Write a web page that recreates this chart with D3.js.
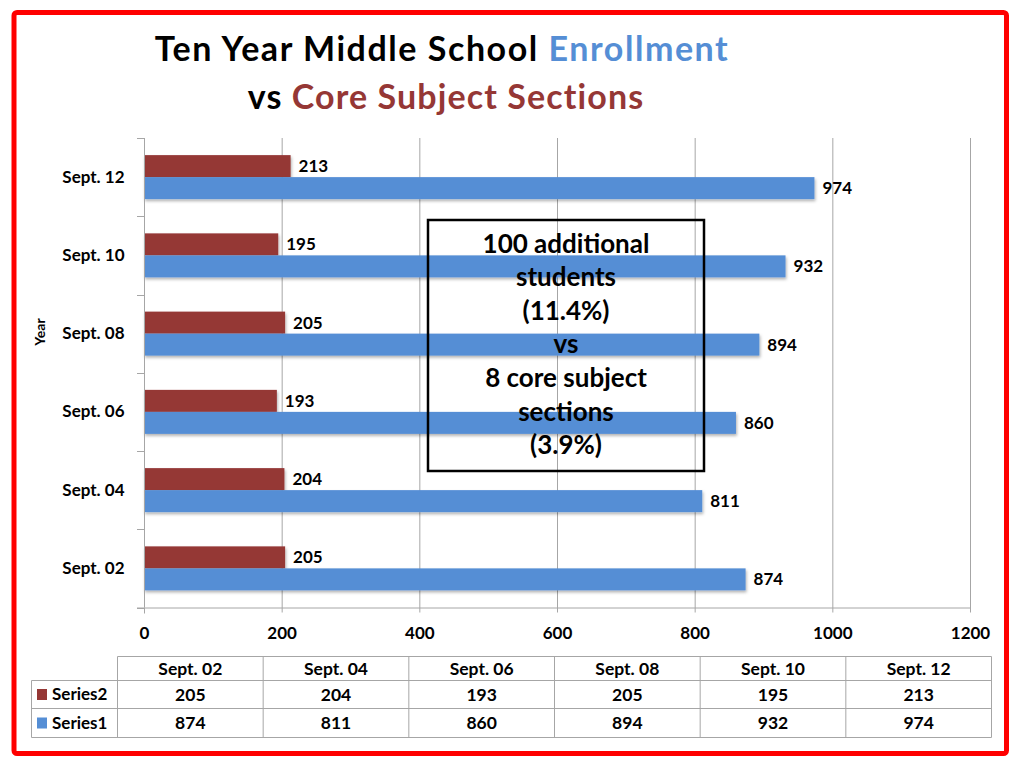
<!DOCTYPE html>
<html>
<head>
<meta charset="utf-8">
<script src="https://cdn.jsdelivr.net/npm/d3@7"></script>
<style>
  html, body { margin: 0; padding: 0; background: #fff; }
  svg { display: block; font-family: Lato, "Open Sans", sans-serif; font-weight: bold; }
</style>
</head>
<body>
<svg id="chart" width="1024" height="768"></svg>
<script>
// ---- data ----
const categories = ["Sept. 02", "Sept. 04", "Sept. 06", "Sept. 08", "Sept. 10", "Sept. 12"];
const series2 = [205, 204, 193, 205, 195, 213];   // core subject sections (red)
const series1 = [874, 811, 860, 894, 932, 974];   // enrollment (blue)
const seriesNames = ["Series2", "Series1"];
const xTicks = [0, 200, 400, 600, 800, 1000, 1200];
const boxLines = ["100 additional", "students", "(11.4%)", "vs", "8 core subject", "sections", "(3.9%)"];

const blue = "#558ED5", red = "#953735", grid = "#A6A6A6";
const fs = 17;

const svg = d3.select("#chart");

// drop shadow
const defs = svg.append("defs");
const f = defs.append("filter").attr("id", "sh").attr("x", "-5%").attr("y", "-30%").attr("width", "110%").attr("height", "180%");
f.append("feDropShadow").attr("dx", 1).attr("dy", 2).attr("stdDeviation", 1.5).attr("flood-color", "#000").attr("flood-opacity", 0.3);

// red frame
svg.append("rect").attr("x", 14).attr("y", 12.5).attr("width", 992.5).attr("height", 741)
  .attr("rx", 3).attr("fill", "none").attr("stroke", "#FF0000").attr("stroke-width", 5);

// title
const t1 = svg.append("text").attr("x", 442).attr("y", 61).attr("text-anchor", "middle").attr("font-size", 34).attr("letter-spacing", 1.55);
t1.append("tspan").attr("fill", "#000").text("Ten Year Middle School ");
t1.append("tspan").attr("fill", blue).text("Enrollment");
const t2 = svg.append("text").attr("x", 446).attr("y", 109).attr("text-anchor", "middle").attr("font-size", 34).attr("letter-spacing", 1.1);
t2.append("tspan").attr("fill", "#000").text("vs ");
t2.append("tspan").attr("fill", red).text("Core Subject Sections");

// scales
const pLeft = 144, pRight = 970, pTop = 138, pBottom = 607.5;
const x = d3.scaleLinear().domain([0, 1200]).range([pLeft, pRight]);
const y = d3.scaleBand().domain(categories.slice().reverse()).range([pTop, pBottom]).paddingInner(0).paddingOuter(0);
const barH = 22;
const inner = d3.scaleBand().domain(seriesNames)
  .range([y.bandwidth() / 2 - barH, y.bandwidth() / 2 + barH]).padding(0);

// gridlines
svg.append("g").selectAll("line").data(xTicks.slice(1)).join("line")
  .attr("x1", d => x(d) + 0.5).attr("x2", d => x(d) + 0.5)
  .attr("y1", pTop).attr("y2", pBottom + 5)
  .attr("stroke", grid).attr("stroke-width", 1);

// bars
const rows = categories.map((c, i) => ({ c, s2: series2[i], s1: series1[i] }));
const gBars = svg.append("g");
rows.forEach(r => {
  const g = gBars.append("g").attr("transform", `translate(0,${y(r.c)})`);
  g.append("rect").attr("x", x(0)).attr("y", inner("Series2")).attr("width", x(r.s2) - x(0)).attr("height", inner.bandwidth())
    .attr("fill", red).attr("filter", "url(#sh)");
  g.append("rect").attr("x", x(0)).attr("y", inner("Series1")).attr("width", x(r.s1) - x(0)).attr("height", inner.bandwidth())
    .attr("fill", blue).attr("filter", "url(#sh)");
  g.append("text").attr("x", x(r.s2) + 8).attr("y", inner("Series2") + inner.bandwidth() / 2).attr("dy", "0.35em")
    .attr("font-size", fs).attr("fill", "#000").text(r.s2);
  g.append("text").attr("x", x(r.s1) + 8).attr("y", inner("Series1") + inner.bandwidth() / 2).attr("dy", "0.35em")
    .attr("font-size", fs).attr("fill", "#000").text(r.s1);
});

// y axis
const yAxis = svg.append("g").attr("transform", `translate(${pLeft + 0.5},0)`)
  .call(d3.axisLeft(y).tickSize(0).tickPadding(20));
yAxis.select(".domain").remove();
yAxis.selectAll("text").attr("font-size", fs).attr("font-family", "Lato").attr("font-weight", "bold").attr("fill", "#000");
svg.append("line").attr("x1", pLeft + 0.5).attr("x2", pLeft + 0.5).attr("y1", pTop).attr("y2", pBottom).attr("stroke", grid);
const bounds = categories.map(c => y(c)).concat([pBottom]);
svg.append("g").selectAll("line").data(bounds).join("line")
  .attr("x1", pLeft - 7).attr("x2", pLeft).attr("y1", d => Math.round(d) + 0.5).attr("y2", d => Math.round(d) + 0.5)
  .attr("stroke", grid);

// x axis
const xAxis = svg.append("g").attr("transform", `translate(0,${pBottom})`)
  .call(d3.axisBottom(x).tickValues(xTicks).tickSize(0).tickPadding(19).tickFormat(d3.format("d")));
xAxis.select(".domain").remove();
xAxis.selectAll("text").attr("font-size", fs).attr("font-family", "Lato").attr("font-weight", "bold").attr("fill", "#000");
svg.append("line").attr("x1", pLeft - 7).attr("x2", pRight).attr("y1", pBottom + 0.5).attr("y2", pBottom + 0.5).attr("stroke", grid);
svg.append("line").attr("x1", pLeft + 0.5).attr("x2", pLeft + 0.5).attr("y1", pBottom).attr("y2", pBottom + 6).attr("stroke", grid);

// y title
svg.append("text").attr("transform", "translate(45,332) rotate(-90)").attr("text-anchor", "middle")
  .attr("font-size", 14).attr("fill", "#000").text("Year");

// annotation box
svg.append("rect").attr("x", 428).attr("y", 220).attr("width", 276).attr("height", 251)
  .attr("fill", "none").attr("stroke", "#000").attr("stroke-width", 2.5);
svg.append("g").selectAll("text").data(boxLines).join("text")
  .attr("x", 566).attr("y", (d, i) => 252.5 + i * 33.6).attr("text-anchor", "middle")
  .attr("font-size", 26).attr("fill", "#000").text(d => d);

// data table
const tLeft = 31.5, tHead = 117.5, tRight = 991.5;
const rowY = [656.5, 680.5, 708.5, 737.5];
const col = d3.scaleBand().domain(categories).range([tHead, tRight]);
const tg = svg.append("g").attr("stroke", grid).attr("stroke-width", 1);
tg.append("line").attr("x1", tHead).attr("x2", tRight).attr("y1", rowY[0]).attr("y2", rowY[0]);
[1, 2, 3].forEach(k => tg.append("line").attr("x1", tLeft).attr("x2", tRight).attr("y1", rowY[k]).attr("y2", rowY[k]));
tg.append("line").attr("x1", tLeft).attr("x2", tLeft).attr("y1", rowY[1]).attr("y2", rowY[3]);
categories.forEach(c => tg.append("line").attr("x1", col(c)).attr("x2", col(c)).attr("y1", rowY[0]).attr("y2", rowY[3]));
tg.append("line").attr("x1", tRight).attr("x2", tRight).attr("y1", rowY[0]).attr("y2", rowY[3]);

svg.append("g").selectAll("text").data(categories).join("text")
  .attr("x", c => col(c) + col.bandwidth() / 2).attr("y", (rowY[0] + rowY[1]) / 2).attr("dy", "0.35em")
  .attr("text-anchor", "middle").attr("font-size", 17.5).attr("fill", "#000").text(c => c);

const tableSeries = [{ name: "Series2", vals: series2, color: red }, { name: "Series1", vals: series1, color: blue }];
tableSeries.forEach((s, k) => {
  const cy = (rowY[k + 1] + rowY[k + 2]) / 2;
  svg.append("rect").attr("x", 37).attr("y", cy - 5.5).attr("width", 10).attr("height", 11).attr("fill", s.color);
  svg.append("text").attr("x", 52).attr("y", cy).attr("dy", "0.35em").attr("font-size", fs).attr("fill", "#000").text(s.name);
  svg.append("g").selectAll("text").data(s.vals).join("text")
    .attr("x", (d, i) => col(categories[i]) + col.bandwidth() / 2).attr("y", cy).attr("dy", "0.35em")
    .attr("text-anchor", "middle").attr("font-size", 17.5).attr("fill", "#000").text(d => d);
});
</script>
</body>
</html>
